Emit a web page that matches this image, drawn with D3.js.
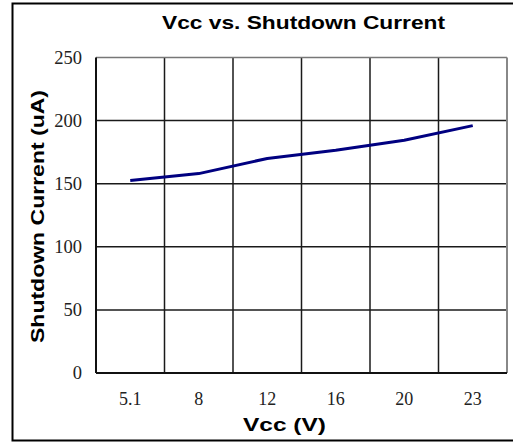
<!DOCTYPE html>
<html><head><meta charset="utf-8">
<script src="https://cdn.jsdelivr.net/npm/d3@7"></script>
<style>body{margin:0;background:#fff}svg{display:block}</style>
</head><body>
<script>
const categories = ["5.1","8","12","16","20","23"];
const current = [152.5, 158, 170, 176.5, 184.5, 196];
const yTicks = [0,50,100,150,200,250];
const title = "Vcc vs. Shutdown Current";
const xTitle = "Vcc (V)";
const yTitle = "Shutdown Current (uA)";

const W = 513, H = 443;
const m = {left:96, right:507, top:57.5, bottom:373};
const svg = d3.select("body").append("svg").attr("width",W).attr("height",H);

// outer frame
svg.append("rect").attr("x",12.5).attr("y",3.5).attr("width",510).attr("height",437)
  .attr("fill","none").attr("stroke","#000").attr("stroke-width",2);

const x = d3.scaleBand().domain(categories).range([m.left,m.right]);
const y = d3.scaleLinear().domain([0,250]).range([m.bottom,m.top]);

// horizontal gridlines
svg.append("g").selectAll("line").data(yTicks.slice(1,-1)).join("line")
  .attr("x1",m.left).attr("x2",m.right).attr("y1",d=>y(d)).attr("y2",d=>y(d))
  .attr("stroke","#1a1a1a").attr("stroke-width",1.5);
// vertical gridlines
svg.append("g").selectAll("line").data(categories.slice(1)).join("line")
  .attr("x1",d=>x(d)).attr("x2",d=>x(d)).attr("y1",m.top).attr("y2",m.bottom)
  .attr("stroke","#1a1a1a").attr("stroke-width",1.5);
// plot frame
svg.append("line").attr("x1",m.left).attr("x2",m.right).attr("y1",m.top).attr("y2",m.top).attr("stroke","#777").attr("stroke-width",1.5);
svg.append("line").attr("x1",m.right).attr("x2",m.right).attr("y1",m.top).attr("y2",m.bottom).attr("stroke","#888").attr("stroke-width",2);
svg.append("line").attr("x1",m.left).attr("x2",m.left).attr("y1",m.top).attr("y2",m.bottom).attr("stroke","#111").attr("stroke-width",2);
svg.append("line").attr("x1",m.left).attr("x2",m.right).attr("y1",m.bottom).attr("y2",m.bottom).attr("stroke","#111").attr("stroke-width",2);

// y axis labels
const yAxis = d3.axisLeft(y).tickValues(yTicks).tickSize(0).tickPadding(14);
const gy = svg.append("g").attr("transform",`translate(${m.left},0)`).call(yAxis);
gy.select(".domain").remove();
gy.selectAll("text").attr("font-family","'Liberation Serif', serif").attr("font-size",18.5).attr("fill","#222");

// x axis labels
const xAxis = d3.axisBottom(x).tickSize(0).tickPadding(19);
const gx = svg.append("g").attr("transform",`translate(0,${m.bottom})`).call(xAxis);
gx.select(".domain").remove();
gx.selectAll("text").attr("font-family","'Liberation Serif', serif").attr("font-size",18).attr("fill","#222");

// line
const line = d3.line().x((d,i)=>x(categories[i])+x.bandwidth()/2).y(d=>y(d));
svg.append("path").datum(current).attr("d",line).attr("fill","none")
  .attr("stroke","#000080").attr("stroke-width",3).attr("stroke-linejoin","round");

// titles
const sans = "'Liberation Sans', Arial, sans-serif";
svg.append("text").attr("x",303.5).attr("y",28.5).attr("text-anchor","middle")
  .attr("font-family",sans).attr("font-weight","bold").attr("font-size",18.5)
  .attr("textLength",283).attr("lengthAdjust","spacingAndGlyphs")
  .text(title);
svg.append("text").attr("x",284.5).attr("y",430.5).attr("text-anchor","middle")
  .attr("font-family",sans).attr("font-weight","bold").attr("font-size",18.5)
  .attr("textLength",83).attr("lengthAdjust","spacingAndGlyphs")
  .text(xTitle);
svg.append("text").attr("transform","translate(44,216.5) rotate(-90)").attr("text-anchor","middle")
  .attr("font-family",sans).attr("font-weight","bold").attr("font-size",19)
  .attr("textLength",253).attr("lengthAdjust","spacingAndGlyphs")
  .text(yTitle);
</script>
</body></html>
